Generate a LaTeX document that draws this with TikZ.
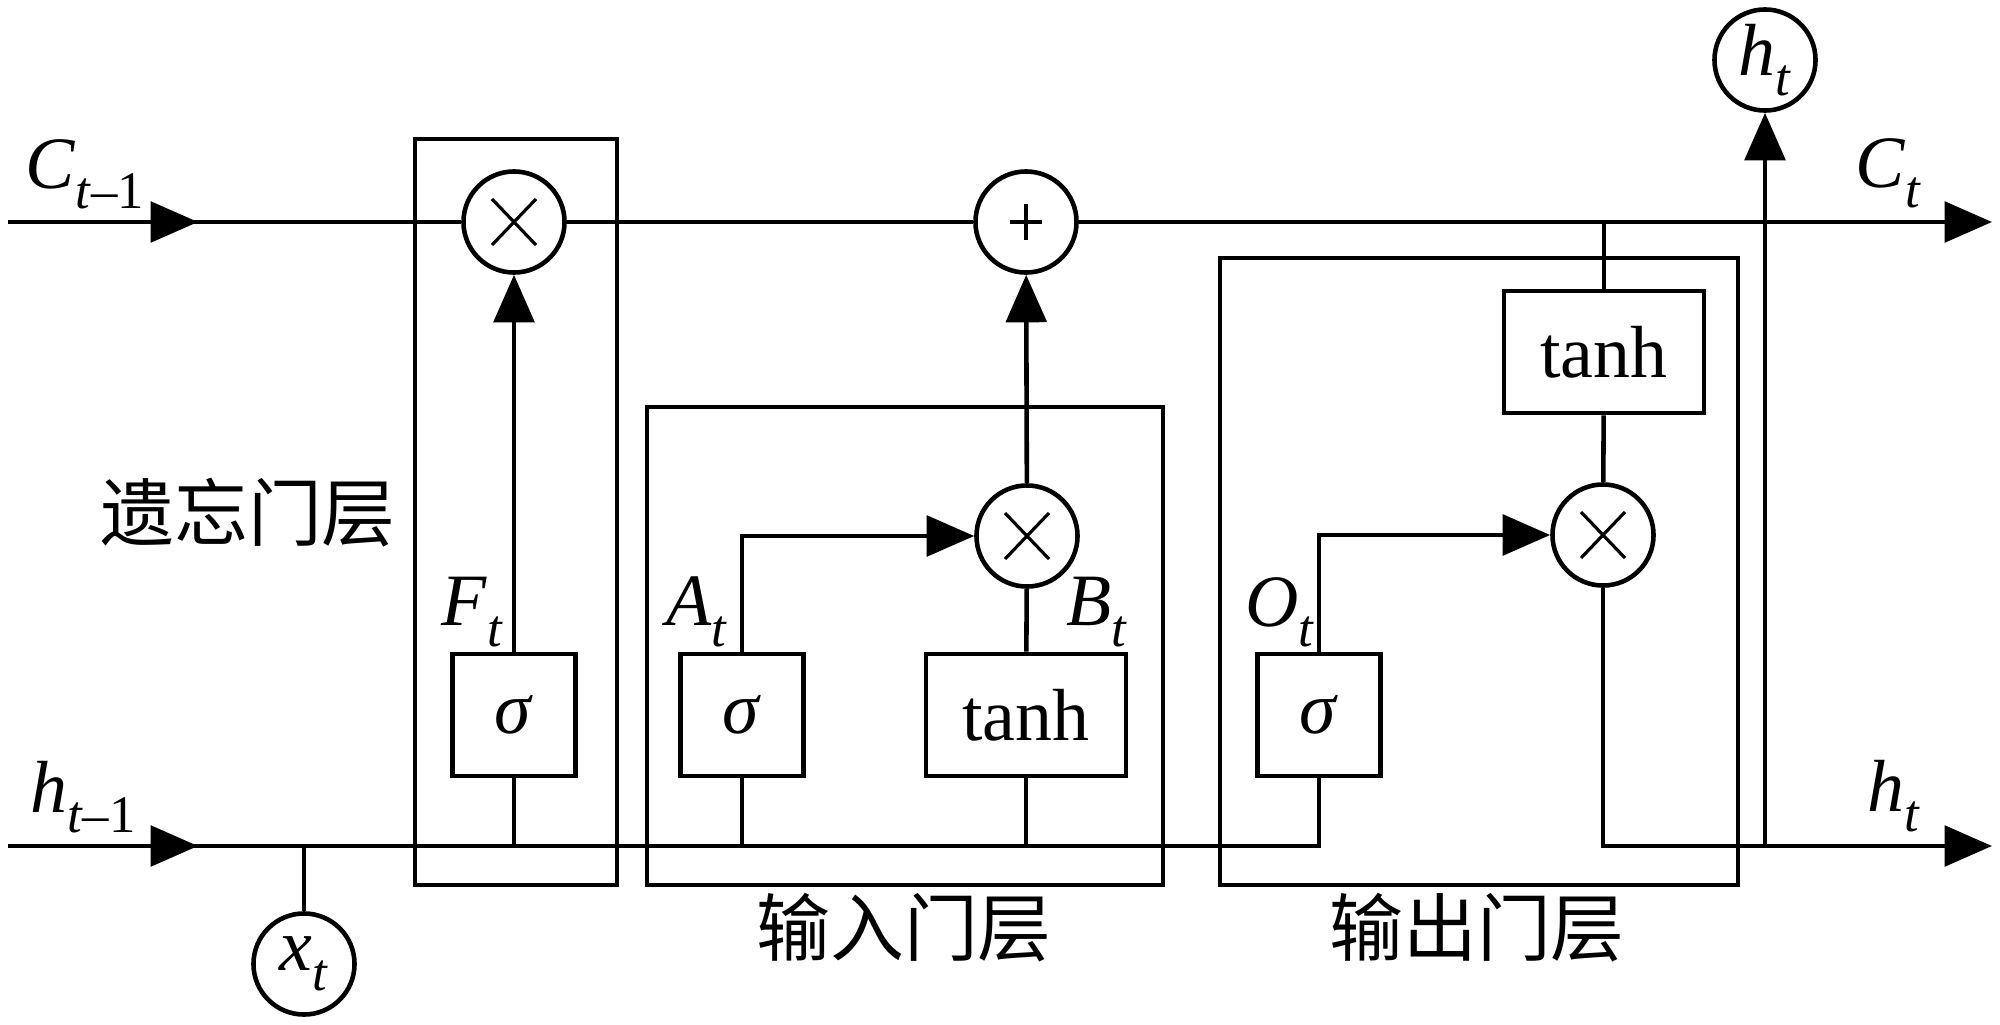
\documentclass[tikz,border=0pt]{standalone}
\usepackage{fontspec}
\setmainfont{Liberation Serif}
\newfontfamily\cjk{Noto Sans CJK SC}
\usetikzlibrary{calc, positioning, arrows.meta}
\tikzstyle{line}=[line width=1.3pt]
\tikzstyle{arr}=[line width=1.3pt, -{Triangle[length=13.5pt,width=11.5pt]}]
\tikzstyle{gate}=[circle, draw, line width=1.3pt, minimum size=1.01cm, inner sep=0pt]
\tikzstyle{unit}=[rectangle, draw, line width=1.3pt, minimum width=1.23cm, minimum height=1.22cm, inner sep=0pt]
\tikzstyle{wideunit}=[unit, minimum width=2.0cm]
\tikzstyle{layer}=[draw, line width=1.2pt]
\tikzstyle{lab}=[inner sep=0pt]
\newcommand{\sublab}[2]{\textit{#1}\raisebox{-0.6ex}{\fontsize{15pt}{15pt}\selectfont #2}}

\begin{document}
\begin{tikzpicture}[x=0.01cm, y=-0.01cm, font=\fontsize{21pt}{25pt}\selectfont]
		\useasboundingbox (0,0) rectangle (2000,1024);

		% layers
		\draw[layer] (415,139) rectangle (617,885);
		\draw[layer] (647,407) rectangle (1163,885);
		\draw[layer] (1220,258) rectangle (1738,885);

		% gates
		\node[gate] (fx) at (514,222) {};
		\node[gate] (plus) at (1026,222) {};
		\node[gate] (ix) at (1027,536) {};
		\node[gate] (xo) at (1603,535) {};
		\node[gate] (ht) at (1765,60) {\sublab{h}{\textit{t}}};
		\node[gate] (xt) at (304,964) {\sublab{x}{\textit{t}}};

		\foreach \n in {fx,ix,xo}
		\draw[line width=0.9pt] ($(\n)+(-22,-23)$) -- ($(\n)+(22,23)$) ($(\n)+(-22,23)$) -- ($(\n)+(22,-23)$);
		\draw[line width=0.9pt] ($(plus)+(-16,0)$) -- ($(plus)+(16,0)$) ($(plus)+(0,-18)$) -- ($(plus)+(0,18)$);

		% units
		\node[unit] (sf) at (514,715) {\textit{σ}};
		\node[unit] (sa) at (742,715) {\textit{σ}};
		\node[wideunit] (tb) at (1026,715) {tanh};
		\node[unit] (so) at (1319,715) {\textit{σ}};
		\node[wideunit] (to) at (1604,352) {tanh};

		% ends of the two lines
		\coordinate (cin) at (8,222);
		\coordinate (carr) at (198,222);
		\coordinate (cout) at (1992,222);
		\coordinate (hin) at (8,846);
		\coordinate (harr) at (198,846);
		\coordinate (hout) at (1992,846);
		\coordinate (hj) at (1765,846);

		% cell state
		\draw[line] (cin) -- (fx);
		\draw[arr] (cin) -- (carr);
		\draw[line] (fx) -- (plus);
		\draw[arr] (plus) -- (cout);

		% hidden state
		\draw[line] (hin) -- (so.south |- hin) -- (so.south);
		\draw[arr] (hin) -- (harr);
		\foreach \n in {sf,sa,tb}
		\draw[line] (\n.south) -- (\n.south |- hin);
		\draw[line] (xt) -- (xt.north |- hin);

		% gate links
		\draw[arr] (sf) -- (fx);
		\draw[arr] (sa.north) |- (ix);
		\draw[line] (tb) -- (ix);
		\draw[arr] (ix) -- (plus);
		\draw[arr] (so.north) |- (xo);
		\draw[line] (to.north) -- (to.north |- plus);
		\draw[line] (to) -- (xo);
		\draw[arr] (xo.south) |- (hout);
		\draw[arr] (hj) -- (ht);

		% labels
		\node[lab] (lc0) at (85,174) {\sublab{C}{\textit{t}–1}};
		\node[lab] (lh0) at (83,797) {\sublab{h}{\textit{t}–1}};
		\node[lab] (lc1) at (1888,173) {\sublab{C}{\textit{t}}};
		\node[lab] (lh1) at (1894,796) {\sublab{h}{\textit{t}}};
		\node[lab] (lf) at (472,612) {\sublab{F}{\textit{t}}};
		\node[lab] (la) at (697,612) {\sublab{A}{\textit{t}}};
		\node[lab] (lb) at (1097,612) {\sublab{B}{\textit{t}}};
		\node[lab] (lo) at (1280,612) {\sublab{O}{\textit{t}}};

		\node[lab] (forget) at (248,513) {\cjk 遗忘门层};
		\node[lab] (input) at (904,928) {\cjk 输入门层};
		\node[lab] (output) at (1477,928) {\cjk 输出门层};
	\end{tikzpicture}
\end{document}
